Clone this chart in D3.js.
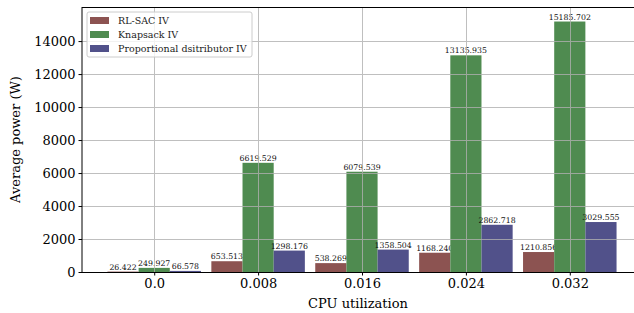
<!DOCTYPE html>
<html><head><meta charset="utf-8">
<script src="https://cdn.jsdelivr.net/npm/d3@7"></script>
<style>body{margin:0;background:#fff}svg{display:block;font-family:"DejaVu Serif",serif}</style>
</head><body>
<svg id="c" width="634" height="313"></svg>
<script>
const categories = ["0.0","0.008","0.016","0.024","0.032"];
const seriesNames = ["RL-SAC IV","Knapsack IV","Proportional dsitributor IV"];
const seriesColors = ["#8c5351","#4f8b50","#51518a"];
const rlsac = [26.422,653.513,538.269,1168.240,1210.856];
const knapsack = [249.927,6619.529,6079.539,13135.935,15185.702];
const proportional = [66.578,1298.176,1358.504,2862.718,3029.555];
const yTicks = [0,2000,4000,6000,8000,10000,12000,14000];
const series = [rlsac, knapsack, proportional];

const svg = d3.select("#c");
const mLeft = 82, mTop = 7, mBottom = 272;
const x = d3.scaleLinear().domain([-0.695, 4.695]).range([mLeft, 642]);
const y = d3.scaleLinear().domain([0, 15945]).range([mBottom, 9]);
const bw = 0.3;

// bars
series.forEach((vals, s) => {
  const g = svg.append("g");
  vals.forEach((v, i) => {
    const cx = i + (s - 1) * bw;
    g.append("rect")
      .attr("x", x(cx - bw/2)).attr("width", x(cx + bw/2) - x(cx - bw/2))
      .attr("y", y(v)).attr("height", y(0) - y(v))
      .attr("fill", seriesColors[s]);
    g.append("text")
      .attr("x", x(cx)).attr("y", y(v) - 2)
      .attr("text-anchor", "middle").attr("font-size", 7.8).attr("fill", "#111")
      .text(v.toFixed(3));
  });
});

// grid (drawn over bars)
const grid = svg.append("g").attr("stroke", "#b0b0b0").attr("stroke-width", 1).attr("opacity", 0.8);
yTicks.forEach(t => grid.append("line").attr("x1", mLeft).attr("x2", 634).attr("y1", Math.round(y(t))+0.5).attr("y2", Math.round(y(t))+0.5));
categories.forEach((c, i) => grid.append("line").attr("x1", Math.round(x(i))+0.5).attr("x2", Math.round(x(i))+0.5).attr("y1", mTop).attr("y2", mBottom));

// axes
const yAxis = svg.append("g").attr("transform", `translate(${mLeft},0)`)
  .call(d3.axisLeft(y).tickValues(yTicks).tickFormat(d3.format("d")).tickSize(3.5).tickPadding(3));
const xAxis = svg.append("g").attr("transform", `translate(0,${mBottom})`)
  .call(d3.axisBottom(x).tickValues(d3.range(categories.length)).tickFormat(i => categories[i]).tickSize(3.5).tickPadding(3));
[yAxis, xAxis].forEach(a => {
  a.selectAll("text").attr("font-family", "DejaVu Serif").attr("font-size", 13).attr("fill", "#000");
  a.select(".domain").remove();
  a.selectAll(".tick line").attr("stroke", "#000");
});
svg.append("line").attr("x1", mLeft).attr("x2", mLeft).attr("y1", mTop).attr("y2", mBottom+0.5).attr("stroke", "#000").attr("stroke-width", 1);
svg.append("line").attr("x1", mLeft).attr("x2", 634).attr("y1", mBottom+0.5).attr("y2", mBottom+0.5).attr("stroke", "#000").attr("stroke-width", 1);
svg.append("line").attr("x1", mLeft).attr("x2", 634).attr("y1", mTop+0.5).attr("y2", mTop+0.5).attr("stroke", "#000").attr("stroke-width", 1);

// axis labels
svg.append("text").attr("x", 358).attr("y", 308).attr("text-anchor", "middle").attr("font-size", 13).text("CPU utilization");
svg.append("text").attr("transform", `translate(20,${(mTop+mBottom)/2}) rotate(-90)`).attr("text-anchor", "middle").attr("font-size", 13).text("Average power (W)");

// legend
const lg = svg.append("g").attr("transform", "translate(87,12)");
lg.append("rect").attr("width", 165).attr("height", 45).attr("rx", 2).attr("fill", "#fff").attr("fill-opacity", 0.8).attr("stroke", "#ccc");
seriesNames.forEach((n, i) => {
  lg.append("rect").attr("x", 3).attr("y", 5 + i*14).attr("width", 19).attr("height", 7).attr("fill", seriesColors[i]);
  lg.append("text").attr("x", 31).attr("y", 12 + i*14).attr("font-size", 9.5).attr("fill", "#222").text(n);
});
</script>
</body></html>
